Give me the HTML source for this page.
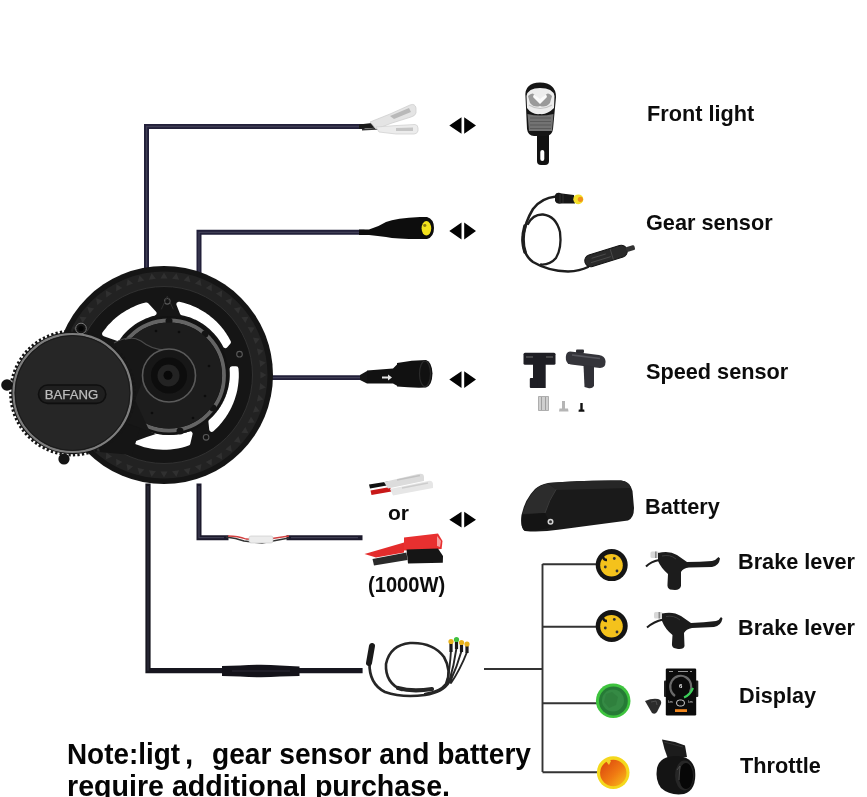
<!DOCTYPE html>
<html><head><meta charset="utf-8">
<style>
html,body{margin:0;padding:0;background:#fff;}
body{width:867px;height:797px;overflow:hidden;position:relative;}
svg{position:absolute;left:0;top:0;}
.lbl{font-family:"Liberation Sans",sans-serif;font-weight:bold;fill:#0c0c0c;}
.note{font-family:"Liberation Sans",sans-serif;font-weight:bold;fill:#050505;}
</style></head>
<body>
<svg width="867" height="797" viewBox="0 0 867 797">
<defs>
  <linearGradient id="og" x1="0" y1="0" x2="1" y2="1">
    <stop offset="0" stop-color="#d8400e"/>
    <stop offset="0.55" stop-color="#f07a12"/>
    <stop offset="1" stop-color="#f8c21a"/>
  </linearGradient>
</defs>
<!-- ============ WIRES ============ -->
<g fill="none" stroke="#22203a" stroke-linecap="square" stroke-width="5">
  <path d="M146.5,268 V126.5 H362"/>
  <path d="M199,272 V232.3 H362"/>
  <path d="M270,377.6 H362" stroke-width="4.8"/>
  <path d="M199,486 V537.7 H226" stroke="#1c1a2c"/>
  <path d="M289,537.7 H360" stroke="#1c1a2c"/>
  <path d="M148,486 V670.7 H360" stroke="#17161f" stroke-width="5.2"/>
</g>
<g fill="none" stroke="#48465c" stroke-width="1.3" opacity="0.8">
  <path d="M146.5,268 V126.5 H360"/>
  <path d="M199,272 V232.3 H360"/>
  <path d="M272,377.6 H360"/>
  <path d="M199,486 V537.7 H224"/>
  <path d="M291,537.7 H358"/>
  <path d="M148,486 V670.7" opacity="0.6"/>
</g>
<!-- tree lines bottom right -->
<g fill="none" stroke="#333" stroke-width="1.9">
  <path d="M484,669 H542.5" stroke-width="2.1"/>
  <path d="M542.5,564 V772"/>
  <path d="M542.5,564.2 H598 M542.5,626.8 H598 M542.5,703.3 H598 M542.5,772.3 H598"/>
</g>

<!-- ============ MOTOR ============ -->
<g id="motor">
  <!-- chainring -->
  <circle cx="164" cy="375" r="109" fill="#151515"/>
  <circle cx="164" cy="375" r="96" fill="none" stroke="#222" stroke-width="15"/>
  <path d="M260.4,371.5 L266.5,375.0 L260.4,378.5 Z M260.2,383.1 L265.8,387.4 L259.3,390.1 Z M258.5,394.6 L263.5,399.5 L256.8,401.5 Z M255.4,405.9 L259.8,411.3 L252.9,412.5 Z M251.0,416.7 L254.8,422.6 L247.7,422.9 Z M245.4,426.9 L248.4,433.2 L241.4,432.7 Z M238.5,436.3 L240.7,443.0 L233.8,441.6 Z M230.6,444.8 L232.0,451.7 L225.3,449.5 Z M221.7,452.4 L222.2,459.4 L215.9,456.4 Z M211.9,458.7 L211.6,465.8 L205.7,462.0 Z M201.5,463.9 L200.3,470.8 L194.9,466.4 Z M190.5,467.8 L188.5,474.5 L183.6,469.5 Z M179.1,470.3 L176.4,476.8 L172.1,471.2 Z M167.5,471.4 L164.0,477.5 L160.5,471.4 Z M155.9,471.2 L151.6,476.8 L148.9,470.3 Z M144.4,469.5 L139.5,474.5 L137.5,467.8 Z M133.1,466.4 L127.7,470.8 L126.5,463.9 Z M122.3,462.0 L116.4,465.8 L116.1,458.7 Z M112.1,456.4 L105.8,459.4 L106.3,452.4 Z M102.7,449.5 L96.0,451.7 L97.4,444.8 Z M94.2,441.6 L87.3,443.0 L89.5,436.3 Z M86.6,432.7 L79.6,433.2 L82.6,426.9 Z M80.3,422.9 L73.2,422.6 L77.0,416.7 Z M75.1,412.5 L68.2,411.3 L72.6,405.9 Z M71.2,401.5 L64.5,399.5 L69.5,394.6 Z M68.7,390.1 L62.2,387.4 L67.8,383.1 Z M67.6,378.5 L61.5,375.0 L67.6,371.5 Z M67.8,366.9 L62.2,362.6 L68.7,359.9 Z M69.5,355.4 L64.5,350.5 L71.2,348.5 Z M72.6,344.1 L68.2,338.7 L75.1,337.5 Z M77.0,333.3 L73.2,327.4 L80.3,327.1 Z M82.6,323.1 L79.6,316.8 L86.6,317.3 Z M89.5,313.7 L87.3,307.0 L94.2,308.4 Z M97.4,305.2 L96.0,298.3 L102.7,300.5 Z M106.3,297.6 L105.8,290.6 L112.1,293.6 Z M116.1,291.3 L116.4,284.2 L122.3,288.0 Z M126.5,286.1 L127.7,279.2 L133.1,283.6 Z M137.5,282.2 L139.5,275.5 L144.4,280.5 Z M148.9,279.7 L151.6,273.2 L155.9,278.8 Z M160.5,278.6 L164.0,272.5 L167.5,278.6 Z M172.1,278.8 L176.4,273.2 L179.1,279.7 Z M183.6,280.5 L188.5,275.5 L190.5,282.2 Z M194.9,283.6 L200.3,279.2 L201.5,286.1 Z M205.7,288.0 L211.6,284.2 L211.9,291.3 Z M215.9,293.6 L222.2,290.6 L221.7,297.6 Z M225.3,300.5 L232.0,298.3 L230.6,305.2 Z M233.8,308.4 L240.7,307.0 L238.5,313.7 Z M241.4,317.3 L248.4,316.8 L245.4,323.1 Z M247.7,327.1 L254.8,327.4 L251.0,333.3 Z M252.9,337.5 L259.8,338.7 L255.4,344.1 Z M256.8,348.5 L263.5,350.5 L258.5,355.4 Z M259.3,359.9 L265.8,362.6 L260.2,366.9 Z" fill="#303030"/>
  <circle cx="164" cy="375" r="88.5" fill="none" stroke="#333" stroke-width="0.9"/>
  <!-- windows -->
  <path d="M178.9,304.3 L182.8,305.2 L186.7,306.4 L190.5,307.7 L194.2,309.3 L197.8,311.1 L201.3,313.1 L204.7,315.2 L208.0,317.6 L211.1,320.1 L214.1,322.8 L216.9,325.7 L219.6,328.7 L222.1,331.9 L224.4,335.2 L226.5,338.6 L228.4,342.2 L225.4,345.7 L223.8,342.6 L221.9,339.6 L219.9,336.8 L217.7,334.0 L215.4,331.4 L212.9,328.9 L210.3,326.5 L207.6,324.3 L204.8,322.2 L201.8,320.3 L198.7,318.6 L195.6,317.1 L192.4,315.7 L189.1,314.5 L185.7,313.5 L182.3,312.7 Z M236.0,368.7 L236.3,372.9 L236.3,377.2 L236.0,381.4 L235.5,385.6 L234.8,389.8 L233.8,393.9 L232.6,397.9 L231.1,401.9 L229.4,405.8 L227.5,409.6 L225.4,413.2 L223.0,416.8 L220.5,420.1 L217.7,423.4 L214.8,426.4 L211.7,429.3 L210.9,421.6 L213.6,419.1 L216.1,416.4 L218.5,413.6 L220.7,410.7 L222.8,407.6 L224.6,404.4 L226.3,401.1 L227.8,397.7 L229.0,394.3 L230.1,390.8 L231.0,387.2 L231.6,383.5 L232.1,379.9 L232.3,376.2 L232.3,372.5 L232.1,368.8 Z M187.9,443.2 L184.4,444.3 L180.9,445.3 L177.4,446.0 L173.8,446.6 L170.2,447.0 L166.6,447.3 L163.0,447.3 L159.3,447.1 L155.7,446.8 L152.1,446.3 L148.6,445.6 L145.0,444.8 L141.6,443.7 L138.1,442.5 L134.8,441.1 L131.5,439.6 L141.0,430.6 L143.9,431.9 L146.8,433.1 L149.8,434.2 L152.8,435.1 L155.9,435.8 L159.0,436.4 L162.1,436.9 L165.2,437.2 L168.4,437.3 L171.6,437.3 L174.7,437.1 L177.9,436.7 L181.0,436.2 L184.1,435.5 L187.1,434.7 L190.1,433.8 Z M106.5,418.8 L104.2,415.6 L102.1,412.3 L100.1,408.9 L98.4,405.3 L96.8,401.7 L95.5,398.0 L94.3,394.2 L93.4,390.4 L92.6,386.5 L92.1,382.6 L91.8,378.7 L91.7,374.7 L91.8,370.8 L92.2,366.9 L92.7,363.0 L93.5,359.1 L107.8,360.4 L107.2,363.8 L106.7,367.2 L106.4,370.6 L106.3,374.1 L106.4,377.5 L106.7,380.9 L107.1,384.3 L107.7,387.7 L108.6,391.1 L109.6,394.3 L110.8,397.6 L112.1,400.7 L113.6,403.8 L115.3,406.8 L117.2,409.7 L119.2,412.5 Z M104.6,333.8 L106.5,331.2 L108.5,328.7 L110.6,326.2 L112.9,323.9 L115.2,321.6 L117.7,319.5 L120.2,317.5 L122.8,315.6 L125.6,313.8 L128.3,312.1 L131.2,310.6 L134.1,309.2 L137.1,307.9 L140.2,306.7 L143.3,305.7 L146.4,304.9 L154.0,313.2 L151.2,313.9 L148.5,314.8 L145.9,315.8 L143.3,316.9 L140.7,318.2 L138.2,319.5 L135.8,320.9 L133.4,322.5 L131.1,324.2 L128.9,325.9 L126.8,327.8 L124.8,329.8 L122.8,331.8 L120.9,333.9 L119.2,336.1 L117.5,338.4 Z" fill="#fff" stroke="#fff" stroke-width="5" stroke-linejoin="round"/>
  <g fill="#141414" stroke="#5a5a5a" stroke-width="1.1">
    <circle cx="167.3" cy="301.3" r="2.8"/>
    <circle cx="239.5" cy="354.2" r="2.8"/>
    <circle cx="206.1" cy="437.3" r="2.8"/>
  </g>
  <g fill="none" stroke="#2e2e2e" stroke-width="1">
    <path d="M161.3,309.3 L167.3,296.3 L173.3,309.3"/>
  </g>
  <!-- hub -->
  <path d="M128,422 L156,434 Q146,437 136,441 Z" fill="#151515"/>
  <circle cx="169" cy="375.5" r="59.5" fill="#121212"/>
  <circle cx="169" cy="375.5" r="55" fill="none" stroke="#646464" stroke-width="3.8"/>
  <g fill="#141414">
    <circle cx="169" cy="321" r="3.5"/><circle cx="205" cy="334" r="3.5"/><circle cx="213" cy="408" r="3.5"/>
    <circle cx="180" cy="431" r="3.5"/><circle cx="120" cy="350" r="3.5"/>
  </g>
  <circle cx="169" cy="375.5" r="53" fill="#1d1d1d"/>
  <path d="M112,345 Q130,335 140,341 Q152,350 165,350 L150,362 L135,400 L150,432 L120,420 Z" fill="#171717"/>
  <path d="M114,343 Q130,334 141,341 Q152,350 166,350" stroke="#4a4a4a" stroke-width="1.1" fill="none"/>
  <circle cx="169" cy="375.5" r="26.5" fill="#171717" stroke="#5a5a5a" stroke-width="1.6"/>
  <circle cx="169" cy="375.5" r="18" fill="#0d0d0d"/>
  <circle cx="168.5" cy="375.5" r="11" fill="#232323"/>
  <circle cx="168" cy="375.2" r="4.5" fill="#090909"/>
  <g fill="#0c0c0c">
    <circle cx="156" cy="331" r="1.3"/><circle cx="179" cy="332" r="1.3"/><circle cx="209" cy="366" r="1.3"/>
    <circle cx="205" cy="396" r="1.3"/><circle cx="193" cy="418" r="1.3"/><circle cx="152" cy="413" r="1.3"/>
  </g>
  <!-- motor body between cover and ring -->
  <path d="M95,415 L140,428 L132,455 L100,452 Z" fill="#151515"/>
  <!-- cover gear -->
  <circle cx="72.5" cy="393" r="62" fill="none" stroke="#151515" stroke-width="2.8" stroke-dasharray="2.3 2.2"/>
  <circle cx="72.5" cy="393" r="61.2" fill="#151515"/>
  <!-- tabs -->
  <circle cx="7" cy="385" r="5.8" fill="#131313"/>
  <circle cx="64" cy="459" r="5.6" fill="#131313"/>
  <circle cx="81" cy="328.5" r="5.3" fill="#131313" stroke="#7a7a7a" stroke-width="1"/>
  <circle cx="81" cy="328.5" r="2.6" fill="#050505"/>
  <circle cx="72.5" cy="393" r="59" fill="#262626" stroke="#7e7e7e" stroke-width="2.2"/>
  <circle cx="72.5" cy="393" r="57.4" fill="none" stroke="#1a1a1a" stroke-width="1"/>
  <!-- badge -->
  <rect x="38.5" y="385" width="67.3" height="18.4" rx="9.2" fill="#1f1f1f" stroke="#0f0f0f" stroke-width="1.6"/>
  <text x="44.8" y="399.2" font-family="Liberation Sans" font-size="13" fill="#bdbdbd" stroke="#bdbdbd" stroke-width="0.25" textLength="53.4" lengthAdjust="spacingAndGlyphs">BAFANG</text>
</g>

<!-- ============ TOP CONNECTORS ============ -->
<!-- front light spades -->
<g>
  <path d="M359,124.5 L372,123 L378,127.5 L359,129 Z" fill="#1a1a1a"/>
  <path d="M362,129 L380,127.5 L381,129.5 L362,130.5 Z" fill="#333"/>
  <path d="M370,122 Q380,118 390,114 L410,105 Q415,103 416,108 L416,113 Q415,116 411,117 L392,123 L376,129 Z" fill="#e4e4e4" stroke="#cfcfcf" stroke-width="0.8"/>
  <path d="M390,116 L409,108 L411,112 L394,119 Z" fill="#b9b9b9"/>
  <path d="M376,127 L397,125.5 L415,124.5 Q418,125 418,128 L418,131 Q417,134 414,134 L396,134 L379,132 Z" fill="#ececec" stroke="#d2d2d2" stroke-width="0.8"/>
  <path d="M396,128 L413,127.5 L413,131 L396,131 Z" fill="#c5c5c5"/>
</g>
<!-- gear connector -->
<g>
  <path d="M359,229.5 H369 Q378,227 386,222 Q396,218 420,217 L427,217 Q434,219 434,228 Q434,237 427,239 L420,239 Q396,239 386,237 Q378,236 369,235 H359 Z" fill="#0d0d0d"/>
  <ellipse cx="426.4" cy="228.3" rx="4.8" ry="7.3" fill="#f3e21c"/>
  <ellipse cx="424.8" cy="225.5" rx="1.6" ry="1.4" fill="#8a7a10"/>
</g>
<!-- speed connector -->
<g>
  <path d="M360,375 L367,371 L367,383.5 L360,380 Z" fill="#141414"/>
  <path d="M367,370.5 L393,368.5 L397.5,364 L397.5,386 L393,383.5 L367,383.5 Z" fill="#111"/>
  <path d="M397,363 Q412,360 426,360 Q432,362 432.5,373.5 Q432,386 426,387.5 Q412,388 397,386.5 Z" fill="#111"/>
  <ellipse cx="425" cy="373.8" rx="5.5" ry="12.8" fill="none" stroke="#2a2a2a" stroke-width="1.2"/>
  <path d="M382,376.5 H388 V374.5 L392,377.5 L388,380.5 V378.5 H382 Z" fill="#e6e6e6"/>
</g>
<!-- battery connectors -->
<g>
  <path d="M369,484.5 L388,481.5 L389.5,485 L370,488.5 Z" fill="#111"/>
  <path d="M370.5,490.5 L390,487 L391.5,491.5 L371.5,495 Z" fill="#c81818"/>
  <path d="M384,482 L418,474 Q424,472.5 424,477 L424,481 L388,488.5 Z" fill="#dcdcdc"/>
  <path d="M397,480 L420,475.5" stroke="#c2c2c2" stroke-width="1.5"/>
  <path d="M390,489 L428,481 Q433,480 433,485 L433,488 L393,495.5 Z" fill="#e6e6e6"/>
  <path d="M402,488 L428,483" stroke="#cdcdcd" stroke-width="1.5"/>
</g>
<g>
  <path d="M364.5,554 L404,542.5 L404,552.5 L376,557.5 Z" fill="#e42c2c"/>
  <path d="M404,537.5 L438,533.5 L442.5,541 L441.6,549 L404,550.5 Z" fill="#e83030"/>
  <path d="M437,536 L441,541 L440,547 L437,546 Z" fill="#f5a0a0"/>
  <path d="M372.5,559 L406.5,552.5 L407.5,560 L374,565.5 Z" fill="#2a2a2a"/>
  <path d="M406.5,549.5 L438,548.5 L443,556 L442.8,562.8 L408,563.5 Z" fill="#151515"/>
</g>
<!-- battery inline thin wires -->
<g fill="none">
  <path d="M226,537 Q236,538 244,541 L262,543 L289,538" stroke="#333" stroke-width="1.5"/>
  <path d="M228,536 Q238,536 246,539 L262,540 L289,536" stroke="#d24040" stroke-width="1.3"/>
  <rect x="249" y="536" width="24" height="7" rx="2" fill="#ececec" stroke="#c8c8c8" stroke-width="0.6"/>
</g>
<!-- display inline connector -->
<path d="M222,666 L240,665.5 Q262,664 280,665.5 L299.5,666.5 L299.5,676 L280,676.5 Q262,678 240,676.5 L222,676 Z" fill="#14131a"/>
<path d="M232,671 H290" stroke="#2c2b36" stroke-width="1" fill="none"/>


<!-- ============ PRODUCT IMAGES ============ -->
<!-- front light -->
<g id="lamp">
  <path d="M537,133 H549 V161 Q549,165 545,165 H541 Q537,165 537,161 Z" fill="#111"/>
  <rect x="540.3" y="150" width="4" height="11" rx="2" fill="#fff"/>
  <path d="M525.5,97 Q524,83 540,82.5 Q556,83 556,97 L553,129 Q552,136 546,136 H534 Q528,136 527,129 Z" fill="#151515"/>
  <path d="M526.5,96 Q528,88 540,88 Q553,88 554.5,96 L554,108 Q547,115 540,114 Q532,115 527,108 Z" fill="#ededed"/>
  <path d="M528,96 Q533,91 536,96 L540,101 L544,96 Q548,91 552,96 L550,103 Q546,108 540,106 Q534,108 530,103 Z" fill="#9a9a9a"/>
  <path d="M533,97 L540,104 L547,97 L546,94 L540,99 L534,94 Z" fill="#fafafa"/>
  <path d="M529,105 Q540,112 552,105" stroke="#c4c4c4" stroke-width="1.2" fill="none"/>
  <path d="M527.5,114 Q540,117 553.5,114 L552,131 H529 Z" fill="#737373"/>
  <path d="M530,118 H551 M530,121.5 H551 M530,125 H551 M530,128.5 H551" stroke="#565656" stroke-width="0.9"/>
</g>
<!-- gear sensor -->
<g id="gearsensor" fill="none" stroke="#1e1e1e" stroke-linecap="round">
  <path d="M556,196.5 Q541,198 533,209 Q525,222 523,237 Q522,254 533,262 Q548,271 568,271.5 Q580,271 588,267" stroke-width="2.5"/>
  <path d="M525,226 Q521,240 525,252" stroke-width="3.6"/>
  <path d="M528,224 Q533,214 543,214.5 Q556,216 560,232 Q562,248 556,258 Q550,265 541,264.5" stroke-width="2.3"/>
  <g transform="rotate(-17 606 256)"><rect x="584" y="250" width="44" height="12" rx="6" fill="#2a2a2a" stroke="#151515" stroke-width="1"/>
  <path d="M592,254 H606 M590,258 H610 M612,251 V261" stroke="#5a5a5a" stroke-width="0.6"/>
  <rect x="627" y="253.5" width="9" height="5" rx="1.5" fill="#333" stroke="none"/></g>
</g>
<g>
  <path d="M555,195 Q556,192.5 559,192.8 L562,193.5 L574,195 L575,203.5 L562,203.5 L559,203.8 Q556,203.5 555,201 Z" fill="#161616"/>
  <path d="M560,194 V203 M563,194 V203" stroke="#3a3a3a" stroke-width="0.7"/>
  <ellipse cx="578.3" cy="199.3" rx="5" ry="4.9" fill="#f4e02a"/>
  <circle cx="580.4" cy="199.3" r="2.6" fill="#f0901a"/>
</g>
<!-- speed sensor -->
<g id="speedsensor">
  <rect x="523.5" y="352.8" width="32" height="12" rx="1.5" fill="#1e1e24"/>
  <path d="M526,357 H533 M546,357 H553" stroke="#6a6a6a" stroke-width="1"/>
  <rect x="533" y="364" width="12.7" height="24" fill="#1e1e24"/>
  <rect x="529.8" y="378" width="8" height="10" rx="1" fill="#1e1e24"/>
  <path d="M570,351.5 Q565,352 566,360 Q567,364 571,364.5 L600,368 Q606,368 605.5,361 Q605,356 599,355 Z" fill="#34343a"/>
  <path d="M572,355 L600,358.5" stroke="#55555c" stroke-width="1.6"/>
  <rect x="576" y="349.5" width="8" height="3.5" rx="1" fill="#2c2c32"/>
  <path d="M583.5,365 L594,366.5 L594,386 Q592,389 588,388 L584.5,387 Z" fill="#303036"/>
  <path d="M538.5,396.5 h10 v14 h-10 z" fill="#cfcfcf" stroke="#a0a0a0" stroke-width="0.8"/>
  <path d="M541.5,397 v13 M545.5,397 v13" stroke="#8a8a8a" stroke-width="0.7"/>
  <path d="M562,401 h3 v7.5 h3 l0.5,3 h-9.5 l0.5,-3 h2.5 z" fill="#b5b5b5"/>
  <path d="M580.3,403 h2.4 v6.5 h1.5 l0.3,2.3 h-6 l0.3,-2.3 h1.5 z" fill="#111"/>
</g>
<!-- battery -->
<g id="battery">
  <path d="M548,483 Q585,480 621,480.5 Q630,481.5 632.5,491 L634,508 Q634,518 628,520.5 L560,529.5 Q540,532.5 525,531 Q520,528 521.5,515 Q525,499 535,489 Q540,484.5 548,483 Z" fill="#1a1a1a"/>
  <path d="M548,483 Q585,480 621,480.5 Q629,481 631,488 L556,490 Q552,486 548,483 Z" fill="#262626"/>
  <path d="M548,483.5 Q540,485 535,490 Q526,500 522.5,514 L545,513 Q549,500 556,489.5 Z" fill="#2c2c2c"/>
  <path d="M556,489.5 Q549,500 545,513" stroke="#3a3a3a" stroke-width="1" fill="none"/>
  <path d="M522,515 L545,513 L552,527 Q538,531 525,531 Q520,528 522,515 Z" fill="#141414"/>
  <circle cx="550.5" cy="521.7" r="3" fill="#d5d5d5"/>
  <circle cx="550.5" cy="521.7" r="1.5" fill="#333"/>
</g>
<!-- harness -->
<g id="harness" fill="none" stroke="#262626" stroke-linecap="round">
  <path d="M369.5,663 Q369,684 385,692 Q402,698 425,695 Q443,692 449,682" stroke-width="2.7"/>
  <path d="M402,690 Q385,683 386,664 Q390,645 410,643 Q433,642 444,657 Q452,671 446,684 Q440,692 425,694" stroke-width="2.6"/>
  <path d="M398,688 Q412,692 432,689" stroke-width="4.2"/>
  <path d="M447,683 Q450,668 451,650 M449,682 Q454,666 456.5,648 M450,682 Q457,667 461.5,651 M451,683 Q460,670 467,652" stroke-width="1.9"/>
  <path d="M372,646 L369,663" stroke="#1a1a1a" stroke-width="6" stroke-linecap="round"/>
</g>
<g>
  <path d="M451,652 L451,643 M456.5,649 L456.5,641 M461.5,652 L461.5,644 M467,653 L467,645.5" stroke="#1a1a1a" stroke-width="3.2"/>
  <circle cx="451" cy="641.5" r="2.6" fill="#e8b21a"/>
  <circle cx="456.5" cy="639.5" r="2.6" fill="#3fbf3f"/>
  <circle cx="461.5" cy="642.5" r="2.6" fill="#e8b21a"/>
  <circle cx="467" cy="644" r="2.6" fill="#e8b21a"/>
</g>
<!-- round connectors -->
<g id="conns">
  <circle cx="611.7" cy="565.1" r="16" fill="#151515"/>
  <circle cx="611.5" cy="565.3" r="11.3" fill="#f4c21c"/>
  <circle cx="614.3" cy="558.5" r="1.4" fill="#333"/><circle cx="605.3" cy="567" r="1.4" fill="#333"/><circle cx="617" cy="571" r="1.4" fill="#333"/>
  <path d="M603,557 A4,4 0 0 0 607,560" stroke="#151515" stroke-width="2.5" fill="none"/>
  <circle cx="611.7" cy="626" r="16" fill="#151515"/>
  <circle cx="611.5" cy="626.2" r="11.3" fill="#f4c21c"/>
  <circle cx="614.3" cy="619.4" r="1.4" fill="#333"/><circle cx="605.3" cy="628" r="1.4" fill="#333"/><circle cx="617" cy="632" r="1.4" fill="#333"/>
  <path d="M603,618 A4,4 0 0 0 607,621" stroke="#151515" stroke-width="2.5" fill="none"/>
  <circle cx="613.2" cy="700.8" r="17.3" fill="#3ec43e"/>
  <circle cx="613.4" cy="701" r="14.4" fill="#267a36"/>
  <circle cx="613" cy="700.5" r="11" fill="#358a44"/>
  <path d="M606,694 L612,692 L618,697 L616,705 L609,708 L604,702 Z" fill="#2e7d3c" opacity="0.8"/>
  <circle cx="613.2" cy="772.6" r="16.3" fill="#f4d81c"/>
  <circle cx="613.3" cy="773" r="13.2" fill="url(#og)"/>
  <path d="M605,760 Q608,757 611,761 L609,765 Z" fill="#f6d22a"/>
  </g>
<!-- brake levers -->
<g id="brakes" fill="#1c1c1c">
  <g>
    <path d="M646,566.5 Q651,561.5 659,560" stroke="#1c1c1c" stroke-width="2" fill="none"/>
    <rect x="650.5" y="551.5" width="8.5" height="6.5" rx="1.5" fill="#d8d8d8"/>
    <rect x="655" y="551.5" width="1.6" height="6.5" fill="#8a8a8a"/>
    <path d="M658,553 Q669,550 677,555 L687,562 Q700,562 712,561 Q716,560 718.5,557 L720,558.5 Q719,566 712,567 L689,567.5 Q683,568 681,572 L681,586 Q680,590 675,590 L670,589.5 Q667,588 667.5,584 L668,574 Q661,568 658,561 Z"/>
    <path d="M662,556 Q670,554 676,559" stroke="#3a3a3a" stroke-width="1" fill="none"/>
  </g>
  <g>
    <path d="M647,627.5 Q654,621.5 663,619.5" stroke="#1c1c1c" stroke-width="2" fill="none"/>
    <rect x="654" y="612" width="8.5" height="6.5" rx="1.5" fill="#d8d8d8"/>
    <rect x="658.5" y="612" width="1.6" height="6.5" fill="#8a8a8a"/>
    <path d="M662,613.5 Q673,611 681,616 L691,623 Q704,622.5 716,621 Q719.5,620 721,617 L722.5,618.5 Q721,626 714,627 L692,628 Q686,629 684,633 L684.5,646 Q684,649.5 678,649 L674,648 Q671.5,646.5 672,643 L672.5,635 Q665,629 662,621 Z"/>
    <path d="M666,616.5 Q674,615 680,620" stroke="#3a3a3a" stroke-width="1" fill="none"/>
  </g>
</g>
<!-- display -->
<g id="display">
  <rect x="664" y="680.6" width="3" height="16.4" rx="1" fill="#222"/>
  <rect x="695" y="680.6" width="3.3" height="16.4" rx="1" fill="#222"/>
  <rect x="665.8" y="668.5" width="30.4" height="47" rx="1.2" fill="#0b0b0b"/>
  <path d="M669,671.5 H673 M678,671.5 H688 M690,671.5 H692" stroke="#999" stroke-width="1"/>
  <path d="M675,696 A10.5,11 0 1 1 690,692" stroke="#6a6a6a" stroke-width="2.2" fill="none"/>
  <path d="M684,697.5 Q690,695 693,688" stroke="#3dcf5a" stroke-width="2.2" fill="none"/>
  <text x="679" y="688" font-family="Liberation Sans" font-size="6" fill="#eee" font-weight="bold">6</text>
  <text x="668" y="703" font-family="Liberation Sans" font-size="3.5" fill="#ccc">km</text>
  <text x="688" y="703" font-family="Liberation Sans" font-size="3.5" fill="#ccc">km</text>
  <rect x="676.5" y="700" width="8" height="6" rx="3" fill="none" stroke="#ddd" stroke-width="0.9"/>
  <rect x="675" y="709.2" width="12" height="2.8" fill="#f0861e"/>
  <path d="M645,701 Q652,698 658,699 Q662,700 661,704 L657,712 Q655,715 652,713 Z" fill="#2c2c2c"/>
  <path d="M651,702 L656,701 L657,705" stroke="#555" stroke-width="0.8" fill="none"/>
</g>
<!-- throttle -->
<g id="throttle">
  <path d="M662,739.5 Q674,741 685,745.5 L687,757 L668,759 Q664,749 662,739.5 Z" fill="#1c1c1c"/>
  <path d="M664,742 Q672,744 683,747" stroke="#333" stroke-width="1" fill="none"/>
  <path d="M676,756 Q692,756 695,770 Q697,790 684,794 Q670,796 661,788 Q655,780 657,768 Q660,756 676,756 Z" fill="#141414"/>
  <ellipse cx="684.5" cy="775.5" rx="9.5" ry="15" fill="#262626"/>
  <ellipse cx="686" cy="776" rx="7" ry="13" fill="#070707"/>
  <path d="M677,770 L680,766 L679,780" stroke="#555" stroke-width="0.8" fill="none"/>
</g>

<!-- arrows -->
<g fill="#030303">
  <path d="M449.3,125.5 L461.5,117.3 V133.7 Z M476,125.5 L464.2,117.3 V133.7 Z M449.3,231 L461.5,222.5 V239.5 Z M476,231 L464.2,222.5 V239.5 Z M449.3,379.6 L461.5,371.3 V387.9 Z M476,379.6 L464.2,371.3 V387.9 Z M449.3,519.7 L461.5,511.8 V527.6 Z M476,519.7 L464.2,511.8 V527.6 Z"/>
</g>

<!-- ============ LABELS ============ -->
<g class="lbl" font-size="21.7">
  <text x="647" y="121">Front light</text>
  <text x="646" y="229.5">Gear sensor</text>
  <text x="646" y="378.7">Speed sensor</text>
  <text x="645" y="514">Battery</text>
  <text x="738" y="569">Brake lever</text>
  <text x="738" y="634.5">Brake lever</text>
  <text x="739" y="702.8">Display</text>
  <text x="740" y="772.8">Throttle</text>
</g>
<g class="lbl">
  <text x="388" y="520.3" font-size="21">or</text>
  <text x="368" y="591.8" font-size="21.8" textLength="77.2" lengthAdjust="spacingAndGlyphs">(1000W)</text>
</g>
<g class="note" font-size="29.6">
  <text x="67" y="764.3" textLength="113" lengthAdjust="spacingAndGlyphs">Note:ligt</text>
  <text x="185" y="764.3">,</text>
  <text x="212" y="764.3" textLength="319" lengthAdjust="spacingAndGlyphs">gear sensor and battery</text>
  <text x="67" y="796" textLength="383" lengthAdjust="spacingAndGlyphs">require additional purchase.</text>
</g>
</svg>
</body></html>
